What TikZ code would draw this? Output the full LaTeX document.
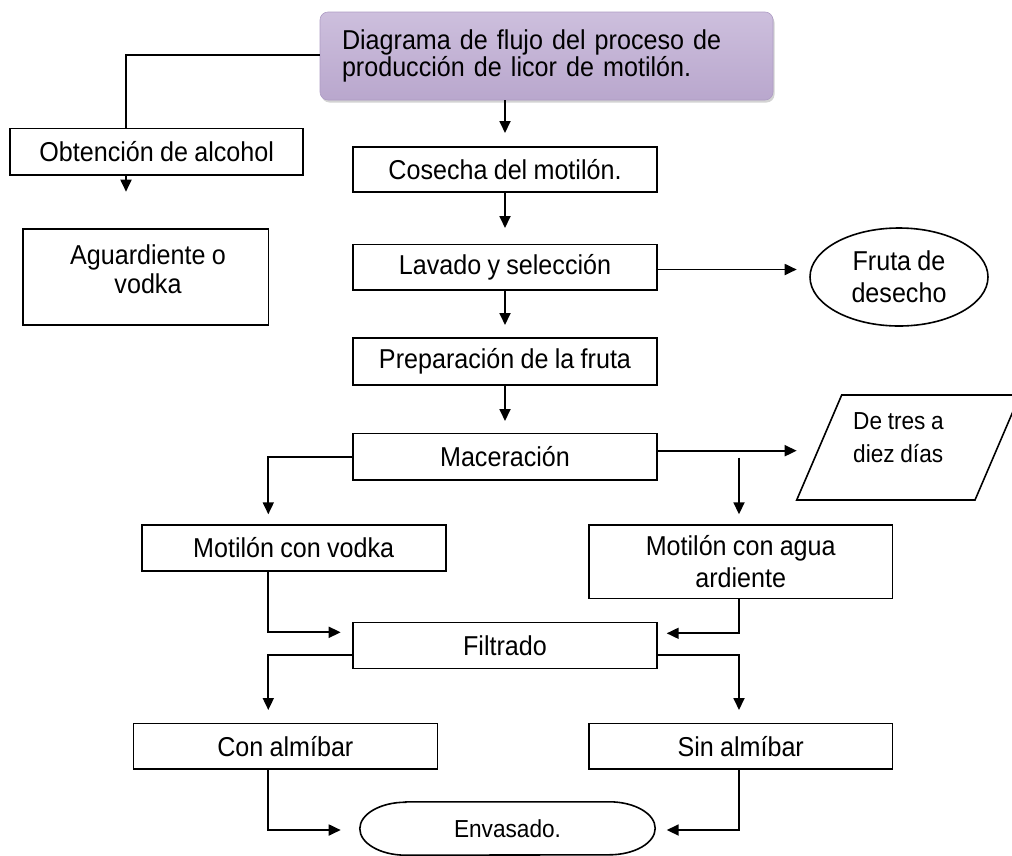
\documentclass[tikz,border=0pt]{standalone}
\usepackage{fontspec}
\setmainfont{Liberation Sans}[FakeStretch=0.92,WordSpace=0.9]
\usetikzlibrary{arrows.meta,shapes.geometric,shadows}

\definecolor{titletop}{HTML}{CDBFDD}
\definecolor{titlemid}{HTML}{E4DEEC}
\definecolor{titlebot}{HTML}{B9A7CD}
\definecolor{titleedge}{HTML}{AE9CC4}

\begin{document}
\begin{tikzpicture}[x=1pt,y=-1pt,
  every node/.style={font=\fontsize{27.3}{30}\selectfont},
  box/.style={draw, line width=1.6pt, rectangle, inner sep=2pt, align=center,
              minimum width=304pt, minimum height=46pt},
  titlebox/.style={rounded corners=8pt, draw=titleedge, line width=0.6pt,
              top color=titletop, middle color=titlemid, bottom color=titlebot,
              drop shadow={shadow xshift=1.5pt, shadow yshift=-2.5pt, opacity=0.35},
              minimum width=453pt, minimum height=88pt, text width=409pt,
              align=left, font=\fontsize{27.3}{27}\selectfont},
  conn/.style={line width=1.8pt},
  arr/.style={conn, -{Triangle[length=12pt,width=11pt]}},
]
\useasboundingbox (0,0) rectangle (1012,855);

% title
\node[titlebox] (top) at (546.5,56) {Diagrama de flujo del proceso de\\producción de licor de motilón.};

% left branch
\node[box, minimum width=293pt, minimum height=46.7pt] (obt) at (156.7,151.7) {Obtención de alcohol};
\node[box, minimum width=245.6pt, minimum height=95.7pt] (agu) at (145.5,277) {};
\node[anchor=north, align=center, inner sep=0pt, font=\fontsize{27.3}{29}\selectfont] (agutxt) at (148,244.5) {Aguardiente o\\vodka};

% main column
\node[box, minimum height=44.5pt] (cosecha) at (505,169.5) {Cosecha del motilón.};
\node[box, minimum height=45.7pt] (lavado) at (505,267.2) {Lavado y selección};
\node[box, minimum height=47pt] (prep) at (505,361.5) {Preparación de la fruta};
\node[box, minimum height=46.7pt] (mac) at (505,456.7) {Maceración};
\node[box, minimum height=46pt] (vodka) at (293.7,548) {Motilón con vodka};
\node[box, minimum width=303.3pt, minimum height=73.3pt, font=\fontsize{27.3}{32}\selectfont] (agua) at (740.7,561.7) {Motilón con agua\\ardiente};
\node[box, minimum height=45.8pt] (filt) at (505,645.4) {Filtrado};
\node[box, minimum height=45.7pt] (con) at (285.3,746.2) {Con almíbar};
\node[box, minimum width=303.3pt, minimum height=45.7pt] (sin) at (740.7,746.2) {Sin almíbar};

% side outputs
\node[draw, ellipse, line width=1.6pt, minimum width=178pt, minimum height=98pt,
      inner sep=0pt, align=center, font=\fontsize{27.3}{32}\selectfont] (fruta) at (899,277) {Fruta de\\desecho};
\draw[line width=1.6pt] (796.7,500) -- (841.7,395) -- (1020,395) -- (975,500) -- cycle;
\node[anchor=north west, align=left, inner sep=0pt, font=\fontsize{24.6}{33}\selectfont] (dias) at (853,412.4) {De tres a\\diez días};

% terminal
\node[minimum width=295pt, minimum height=53pt, inner sep=0pt, font=\fontsize{24.6}{27}\selectfont] (env) at (507.5,828.5) {Envasado.};
\draw[line width=1.6pt] ([xshift=46pt]env.north west) -- ([xshift=-46pt]env.north east)
  arc[start angle=90, end angle=-90, x radius=46pt, y radius=26.5pt]
  -- ([xshift=46pt]env.south west)
  arc[start angle=270, end angle=90, x radius=46pt, y radius=26.5pt] -- cycle;

% connector points
\coordinate (c-top) at (505,133);
\coordinate (c-cos) at (505,228);
\coordinate (c-lav) at (505,325);
\coordinate (c-prep) at (505,421);
\coordinate (c-fruta) at (796.7,269.5);
\coordinate (c-par) at (796.7,450.7);
\coordinate (c-ag0) at (739,457.7);
\coordinate (c-ag1) at (739,514.3);
\coordinate (c-vo0) at (268.3,456.7);
\coordinate (c-vo1) at (268.3,514.3);
\coordinate (c-fl0) at (268.3,632.3);
\coordinate (c-fl1) at (340.7,632.3);
\coordinate (c-fr0) at (739,633.3);
\coordinate (c-fr1) at (666.7,633.3);
\coordinate (c-co0) at (268.3,655);
\coordinate (c-co1) at (268.3,710);
\coordinate (c-si0) at (739,655);
\coordinate (c-si1) at (739,710);
\coordinate (c-en0) at (268.3,830);
\coordinate (c-en1) at (340.7,830);
\coordinate (c-es0) at (739,830);
\coordinate (c-es1) at (666.7,830);
\coordinate (c-ob0) at (126,55);
\coordinate (c-ob1) at (126,191.7);

% connectors
\draw[conn] (top.west |- c-ob0) -- (c-ob0) -- (obt.north -| c-ob0);
\draw[arr] (obt.south -| c-ob1) -- (c-ob1);
\draw[arr] (top.south -| cosecha.north) -- (c-top);
\draw[arr] (cosecha.south) -- (c-cos);
\draw[arr] (lavado.south) -- (c-lav);
\draw[arr] (prep.south) -- (c-prep);
\draw[arr] (lavado.east |- c-fruta) -- (c-fruta);
\draw[arr] (mac.east |- c-par) -- (c-par);
\draw[arr] (c-ag0) -- (c-ag1);
\draw[arr] (mac.west) -- (c-vo0) -- (c-vo1);
\draw[arr] (vodka.south -| c-fl0) -- (c-fl0) -- (c-fl1);
\draw[arr] (agua.south -| c-fr0) -- (c-fr0) -- (c-fr1);
\draw[arr] (filt.west |- c-co0) -- (c-co0) -- (c-co1);
\draw[arr] (filt.east |- c-si0) -- (c-si0) -- (c-si1);
\draw[arr] (con.south -| c-en0) -- (c-en0) -- (c-en1);
\draw[arr] (sin.south -| c-es0) -- (c-es0) -- (c-es1);
\end{tikzpicture}
\end{document}
